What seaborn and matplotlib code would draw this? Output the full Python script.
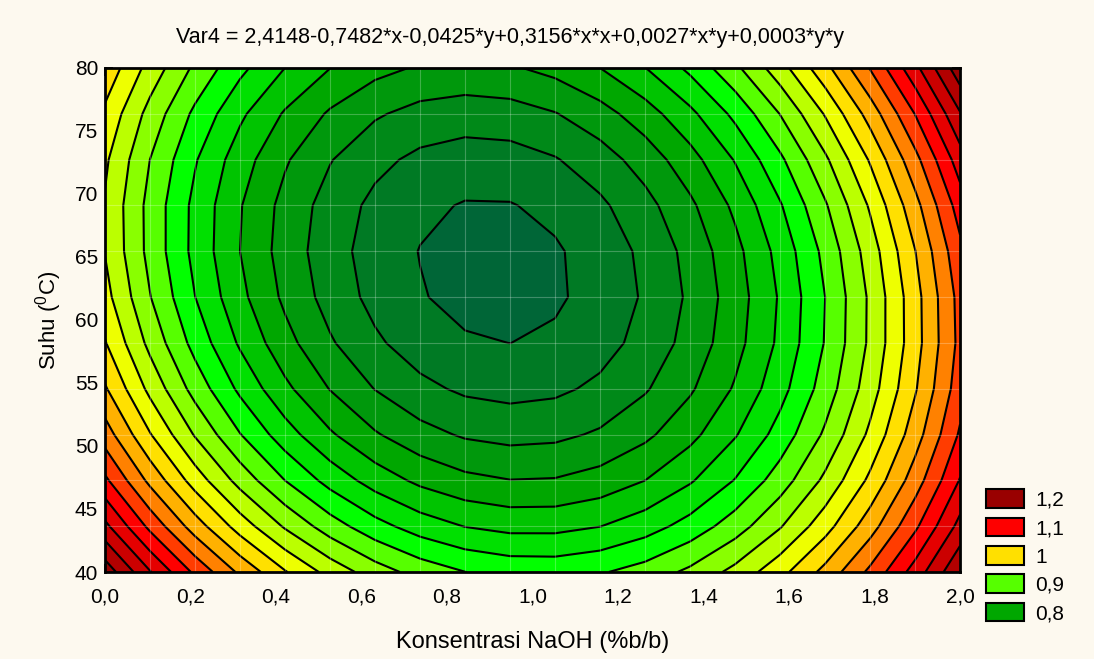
import matplotlib
matplotlib.use("Agg")
import matplotlib.pyplot as plt
import seaborn as sns
import numpy as np
from matplotlib.colors import LinearSegmentedColormap
from matplotlib.patches import Patch
from matplotlib.ticker import MultipleLocator

# fitted surface coefficients (as printed above the chart; y*y term)
coef_names = ["b0", "x", "y", "x*x", "x*y", "y*y"]
coef_vals = [2.4148, -0.7482, -0.0425, 0.3156, 0.0027, 0.000313]

# coarse grid of the fitted surface (Statistica style)
x_nodes = np.linspace(0.0, 2.0, 20)
y_nodes = np.linspace(40.0, 80.0, 12)

levels = np.arange(0.700, 1.2251, 0.025)

x_ticks = [0.0, 0.2, 0.4, 0.6, 0.8, 1.0, 1.2, 1.4, 1.6, 1.8, 2.0]
x_ticklabels = ["0,0", "0,2", "0,4", "0,6", "0,8", "1,0", "1,2", "1,4", "1,6", "1,8", "2,0"]
y_ticks = [40, 45, 50, 55, 60, 65, 70, 75, 80]

legend_vals = [1.2, 1.1, 1.0, 0.9, 0.8]
legend_labels = ["1,2", "1,1", "1", "0,9", "0,8"]

title_txt = "Var4 = 2,4148-0,7482*x-0,0425*y+0,3156*x*x+0,0027*x*y+0,0003*y*y"

sns.set_theme(style="ticks")
plt.rcParams['font.family'] = ['Liberation Sans', 'DejaVu Sans']
plt.rcParams['mathtext.fontset'] = 'custom'
plt.rcParams['mathtext.rm'] = 'Liberation Sans'
plt.rcParams['text.color'] = 'black'
plt.rcParams['axes.labelcolor'] = 'black'
plt.rcParams['xtick.color'] = 'black'
plt.rcParams['ytick.color'] = 'black'

bg = "#fdf9ef"

# colour anchors (band lower bound, colour)
anchors = [(0.675, "#005a3a"), (0.70, "#006637"), (0.725, "#007a24"), (0.80, "#00a800"),
           (0.875, "#00ff00"), (0.90, "#55ff00"), (0.975, "#eeff00"), (1.0, "#ffe000"),
           (1.05, "#ff8000"), (1.1, "#ff0000"), (1.2, "#990000"), (1.25, "#800000")]
lo, hi = anchors[0][0], anchors[-1][0]
cmap = LinearSegmentedColormap.from_list(
    "stat", [((v - lo) / (hi - lo), c) for v, c in anchors])


def col(v):
    return cmap((v - lo) / (hi - lo))


X, Y = np.meshgrid(x_nodes, y_nodes)
b0, bx, by, bxx, bxy, byy = coef_vals
Z = b0 + bx * X + by * Y + bxx * X * X + bxy * X * Y + byy * Y * Y

# band colour taken at the band's lower bound; extend colours on both ends
band_colors = [col(v) for v in levels[:-1]]

fig = plt.figure(figsize=(10.94, 6.59), dpi=100, facecolor=bg)
ax = fig.add_axes([105 / 1094, 1 - 572 / 659, 855 / 1094, 504 / 659])

cs = ax.contourf(X, Y, Z, levels=levels, colors=band_colors, extend="both")
cs.cmap.set_under(col(levels[0] - 0.025))
cs.cmap.set_over(col(levels[-1]))
cs.changed()
ax.contour(X, Y, Z, levels=levels, colors="black", linewidths=1.5)

# faint mesh lines
ax.vlines(x_nodes, 40, 80, colors="white", alpha=0.25, linewidth=0.8)
ax.hlines(y_nodes, 0, 2, colors="white", alpha=0.25, linewidth=0.8)

ax.set_xlim(0, 2)
ax.set_ylim(40, 80)
ax.set_xticks(x_ticks)
ax.set_xticklabels(x_ticklabels)
ax.set_yticks(y_ticks)
ax.xaxis.set_minor_locator(MultipleLocator(0.1))
ax.yaxis.set_minor_locator(MultipleLocator(1))
ax.tick_params(which="both", direction="in", top=True, right=True, color="black")
ax.tick_params(which="major", length=6, width=1.2, labelsize=15)
ax.tick_params(axis="x", which="major", pad=11)
ax.tick_params(axis="y", which="major", pad=5)
ax.tick_params(which="minor", length=3, width=1)
for s in ax.spines.values():
    s.set_linewidth(2)
    s.set_color("black")

ax.set_xlabel("Konsentrasi NaOH (%b/b)", fontsize=17, labelpad=18)
ax.set_ylabel("Suhu ($\\mathregular{^0}$C)", fontsize=16, labelpad=8)

fig.text(510 / 1094, 1 - 37 / 659, title_txt, ha="center", va="center", fontsize=15.5)

handles = [Patch(facecolor=col(v), edgecolor="black", linewidth=1.5) for v in legend_vals]
fig.legend(handles, legend_labels, loc="upper left", bbox_to_anchor=(978 / 1094, 1 - 481 / 659),
           frameon=False, fontsize=15, handlelength=1.8, handleheight=1.0,
           labelspacing=0.38, handletextpad=0.55, borderaxespad=0)

fig.savefig("out.png", dpi=100, facecolor=bg)
